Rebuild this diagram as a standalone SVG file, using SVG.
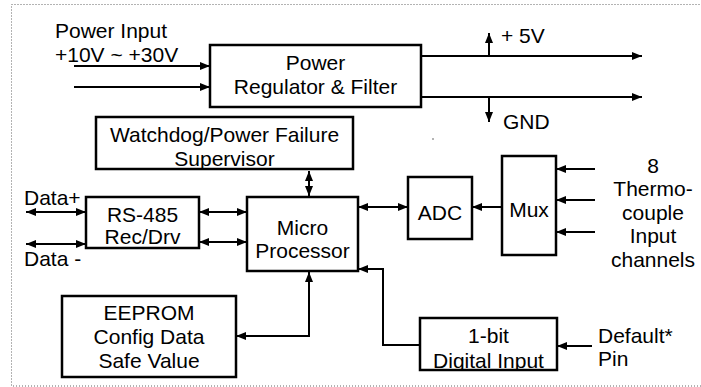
<svg xmlns="http://www.w3.org/2000/svg" width="701" height="387" viewBox="0 0 701 387">
<style>
text{font-family:"Liberation Sans",Arial,sans-serif;font-size:21px;fill:#000}
.c{text-anchor:middle}
.box{fill:none;stroke:#000;stroke-width:2.5}
.ln{fill:none;stroke:#000;stroke-width:2}
.frame{fill:none;stroke:#666;stroke-width:1;stroke-dasharray:1,2}
</style>
<defs>
<marker id="ah" viewBox="0 0 10 8" refX="10" refY="4" markerWidth="10" markerHeight="8" markerUnits="userSpaceOnUse" orient="auto-start-reverse">
<path d="M0,0 L10,4 L0,8 z" fill="#000"/>
</marker>
<clipPath id="cpWd"><rect x="96" y="117" width="257" height="52"/></clipPath>
<clipPath id="cpDi"><rect x="420" y="318" width="137" height="52"/></clipPath>
</defs>
<rect class="frame" x="11.5" y="4.5" width="700" height="381.5"/>
<circle cx="433" cy="139" r="0.8" fill="#555"/>

<g id="power-input-label">
<text x="55" y="38">Power Input</text>
<text x="55" y="62">+10V ~ +30V</text>
</g>
<g id="power-regulator">
<rect class="box" x="210" y="45" width="211" height="62"/>
<text class="c" x="315.5" y="70">Power</text>
<text class="c" x="315.5" y="94">Regulator &amp; Filter</text>
</g>
<g id="v5-label"><text x="501" y="43">+ 5V</text></g>
<g id="gnd-label"><text x="503" y="129">GND</text></g>
<g id="watchdog">
<g clip-path="url(#cpWd)">
<text class="c" x="224.5" y="142">Watchdog/Power Failure</text>
<text class="c" x="224.5" y="166">Supervisor</text>
</g>
<rect class="box" x="96" y="117" width="257" height="52"/>
</g>
<g id="rs485">
<rect class="box" x="86" y="197" width="113" height="51"/>
<text class="c" x="142.5" y="222">RS-485</text>
<text class="c" x="142.5" y="244">Rec/Drv</text>
</g>
<g id="data-labels">
<text x="24" y="205">Data+</text>
<text x="24" y="266">Data -</text>
</g>
<g id="micro">
<rect class="box" x="247" y="197" width="111" height="74"/>
<text class="c" x="302.5" y="235">Micro</text>
<text class="c" x="302.5" y="258">Processor</text>
</g>
<g id="adc">
<rect class="box" x="408" y="177" width="64" height="62"/>
<text class="c" x="440" y="220">ADC</text>
</g>
<g id="mux">
<rect class="box" x="502" y="156" width="54" height="99"/>
<text class="c" x="529" y="217">Mux</text>
</g>
<g id="thermo-label">
<text class="c" x="653" y="173">8</text>
<text class="c" x="653" y="196">Thermo-</text>
<text class="c" x="653" y="220">couple</text>
<text class="c" x="653" y="243">Input</text>
<text class="c" x="653" y="267">channels</text>
</g>
<g id="eeprom">
<rect class="box" x="62" y="296" width="174" height="81"/>
<text class="c" x="149" y="320">EEPROM</text>
<text class="c" x="149" y="344">Config Data</text>
<text class="c" x="149" y="368">Safe Value</text>
</g>
<g id="digital-input">
<g clip-path="url(#cpDi)">
<text class="c" x="488.5" y="343">1-bit</text>
<text class="c" x="488.5" y="368">Digital Input</text>
</g>
<rect class="box" x="420" y="318" width="137" height="52"/>
</g>
<g id="default-pin-label">
<text x="598" y="343">Default*</text>
<text x="598" y="366">Pin</text>
</g>

<g id="connectors">
<path class="ln" d="M74,66 H210" marker-end="url(#ah)"/>
<path class="ln" d="M74,87 H210" marker-end="url(#ah)"/>
<path class="ln" d="M421,56 H642" marker-end="url(#ah)"/>
<path class="ln" d="M421,97 H642" marker-end="url(#ah)"/>
<path class="ln" d="M489,56 V33" marker-end="url(#ah)"/>
<path class="ln" d="M489,97 V122" marker-end="url(#ah)"/>
<path class="ln" d="M309,171 V196" marker-start="url(#ah)" marker-end="url(#ah)"/>
<path class="ln" d="M26,212 H86" marker-start="url(#ah)" marker-end="url(#ah)"/>
<path class="ln" d="M26,244 H86" marker-start="url(#ah)" marker-end="url(#ah)"/>
<path class="ln" d="M199,212 H247" marker-start="url(#ah)" marker-end="url(#ah)"/>
<path class="ln" d="M199,242 H247" marker-start="url(#ah)" marker-end="url(#ah)"/>
<path class="ln" d="M358,207 H408" marker-start="url(#ah)" marker-end="url(#ah)"/>
<path class="ln" d="M502,207 H472" marker-end="url(#ah)"/>
<path class="ln" d="M595,169 H556" marker-end="url(#ah)"/>
<path class="ln" d="M595,200 H556" marker-end="url(#ah)"/>
<path class="ln" d="M595,232 H556" marker-end="url(#ah)"/>
<path class="ln" d="M309,272 V336 H236" marker-start="url(#ah)" marker-end="url(#ah)"/>
<path class="ln" d="M420,345 H383 V269 H358" marker-end="url(#ah)"/>
<path class="ln" d="M592,346 H557" marker-end="url(#ah)"/>
</g>
</svg>
